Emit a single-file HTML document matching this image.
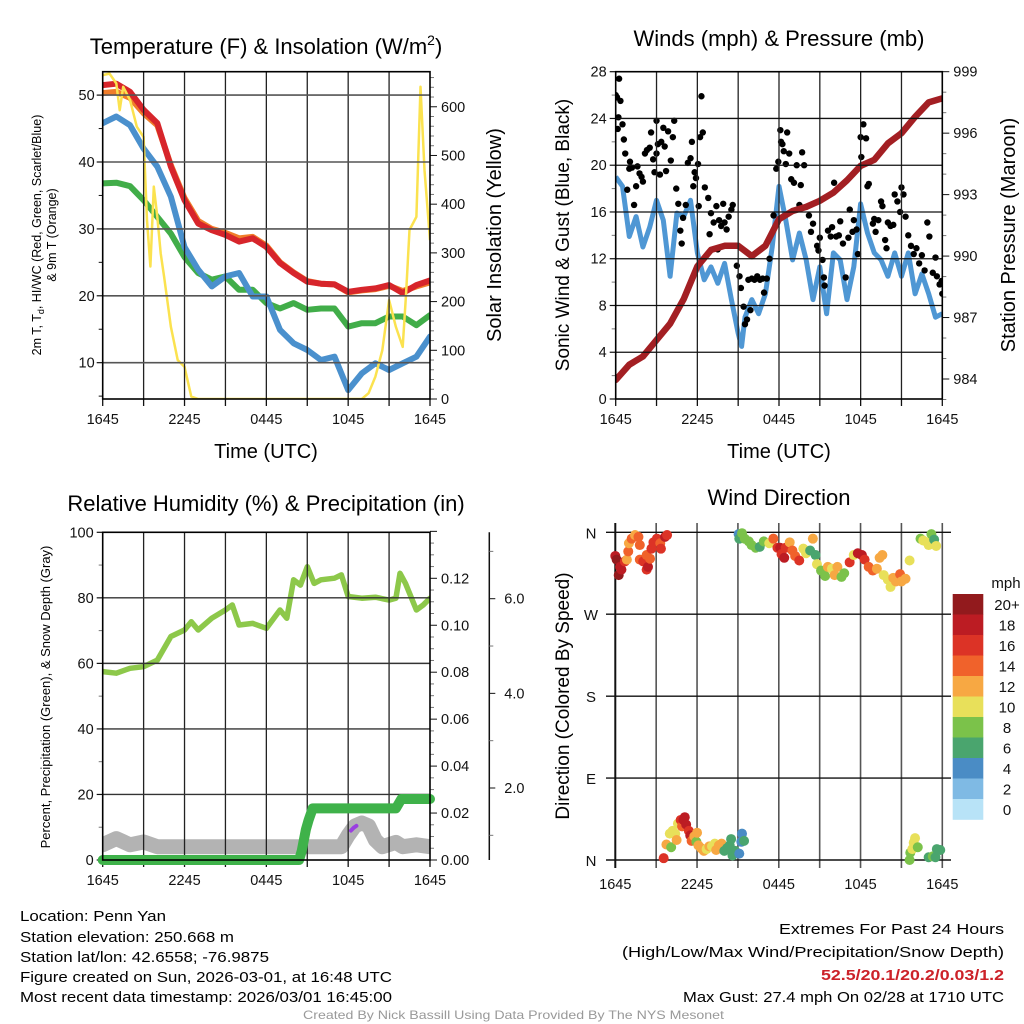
<!DOCTYPE html>
<html><head><meta charset="utf-8"><style>
html,body{margin:0;padding:0;background:#fff;}
svg{display:block;font-family:"Liberation Sans",Arial,sans-serif;}
</style></head><body>
<svg id="fig" width="1024" height="1024" viewBox="0 0 1024 1024" xmlns="http://www.w3.org/2000/svg">
<defs>
<clipPath id="c1"><rect x="102.7" y="71.7" width="327.3" height="327.3"/></clipPath>
<clipPath id="c2"><rect x="615.7" y="71.7" width="326.6" height="327.3"/></clipPath>
<clipPath id="c3"><rect x="102.7" y="532.3" width="327.3" height="327.7"/></clipPath>
</defs>
<text x="266" y="54" font-size="22" text-anchor="middle">Temperature (F) &amp; Insolation (W/m<tspan font-size="14" dy="-9">2</tspan><tspan dy="9">)</tspan></text>
<text x="779" y="46" font-size="22" text-anchor="middle">Winds (mph) &amp; Pressure (mb)</text>
<text x="266" y="511" font-size="22" text-anchor="middle">Relative Humidity (%) &amp; Precipitation (in)</text>
<text x="779" y="505" font-size="22" text-anchor="middle">Wind Direction</text>

<text font-size="12.5" text-anchor="middle" transform="translate(41,235) rotate(-90)">2m T, T<tspan font-size="9" dy="3">d</tspan><tspan dy="-3">, HI/WC (Red, Green, Scarlet/Blue)</tspan></text>
<text font-size="12.5" text-anchor="middle" transform="translate(56,235) rotate(-90)">&amp; 9m T (Orange)</text>
<text font-size="20" text-anchor="middle" transform="translate(501,235) rotate(-90)">Solar Insolation (Yellow)</text>
<text x="266" y="458" font-size="20" text-anchor="middle">Time (UTC)</text>
<text font-size="19" text-anchor="middle" transform="translate(569,235) rotate(-90)">Sonic Wind &amp; Gust (Blue, Black)</text>
<text font-size="20" text-anchor="middle" transform="translate(1015,235) rotate(-90)">Station Pressure (Maroon)</text>
<text x="779" y="458" font-size="20" text-anchor="middle">Time (UTC)</text>
<text font-size="13" text-anchor="middle" transform="translate(50,697) rotate(-90)">Percent, Precipitation (Green), &amp; Snow Depth (Gray)</text>
<text font-size="19" text-anchor="middle" transform="translate(569,696) rotate(-90)">Direction (Colored By Speed)</text>

<g id="layer"></g>

<g font-size="15">
<text x="20" y="921" textLength="146" lengthAdjust="spacingAndGlyphs">Location: Penn Yan</text>
<text x="20" y="942" textLength="214" lengthAdjust="spacingAndGlyphs">Station elevation: 250.668 m</text>
<text x="20" y="962" textLength="249" lengthAdjust="spacingAndGlyphs">Station lat/lon: 42.6558; -76.9875</text>
<text x="20" y="982" textLength="372" lengthAdjust="spacingAndGlyphs">Figure created on Sun, 2026-03-01, at 16:48 UTC</text>
<text x="20" y="1002" textLength="372" lengthAdjust="spacingAndGlyphs">Most recent data timestamp: 2026/03/01 16:45:00</text>
</g>
<g font-size="15">
<text x="779" y="934" textLength="225" lengthAdjust="spacingAndGlyphs">Extremes For Past 24 Hours</text>
<text x="622" y="957" textLength="382" lengthAdjust="spacingAndGlyphs">(High/Low/Max Wind/Precipitation/Snow Depth)</text>
<text x="821" y="980" textLength="183" lengthAdjust="spacingAndGlyphs" fill="#cc2229" font-weight="bold">52.5/20.1/20.2/0.03/1.2</text>
<text x="683" y="1002" textLength="321" lengthAdjust="spacingAndGlyphs">Max Gust: 27.4 mph On 02/28 at 1710 UTC</text>
</g>
<text x="303" y="1019" font-size="12" fill="#999" textLength="421" lengthAdjust="spacingAndGlyphs">Created By Nick Bassill Using Data Provided By The NYS Mesonet</text>
</svg>
<script>
// ===== Panel 1 data =====
const hours = [0,1,2,3,4,5,6,7,8,9,10,11,12,13,14,15,16,17,18,19,20,21,22,23,24];
const airTemp = [51.5,51.7,50.5,47.8,45.8,39.3,34.3,30.8,29.8,29.1,28.1,28.6,27.3,24.9,23.4,22.1,21.8,21.7,20.6,20.9,21.1,21.6,20.4,21.6,22.3];
const temp9m = [50.3,50.5,49.6,47.3,45.5,39.5,34.6,31.2,30.0,29.4,28.6,28.8,27.5,25.0,23.5,22.2,21.8,21.7,20.5,20.8,21.0,21.5,20.7,21.4,22.0];
const dewPoint = [36.8,36.9,36.4,34.3,31.8,29.3,25.8,23.4,22.4,22.9,20.9,20.9,18.9,18.1,18.9,17.9,18.1,18.1,15.4,15.9,15.9,16.9,16.9,15.6,17.1];
const windChill = [45.8,46.8,45.5,42.0,39.3,34.8,27.3,23.9,21.4,22.9,23.4,19.9,19.9,14.9,12.9,11.9,10.4,10.9,5.9,8.4,9.9,8.9,9.9,10.9,13.9];
const solarHours = [0,0.5,1,1.25,1.5,2,2.5,3,3.25,3.5,3.75,4,4.25,4.5,5,5.5,6,6.5,7,19,19.5,20,20.5,21,21.5,22,22.25,22.5,23,23.3,23.6,24];
const solar = [665,668,648,593,641,614,559,538,367,272,436,374,299,251,148,80,66,5,0,0,12,46,100,203,148,107,217,347,374,641,470,326];
const tempTicks = [10,20,30,40,50];
const solarTicks = [0,100,200,300,400,500,600];
const timeLabels = ["1645","2245","0445","1045","1645"];

// ===== Panel 2 data =====
const windHours = [0,0.5,1,1.5,2,2.5,3,3.5,4,4.5,5,5.5,6,6.5,7,7.5,8,8.5,9,9.25,9.5,10,10.5,11,11.5,12,12.5,13,13.5,14,14.5,15,15.5,16,16.5,17,17.5,18,18.5,19,19.5,20,20.5,21,21.5,22,22.5,23,23.5,24];
const windSpeed = [19.0,18.2,13.9,15.6,13.0,14.7,17.0,15.3,10.5,15.9,15.6,17.0,12.5,10.2,11.3,9.9,11.6,8.5,5.6,4.5,7.0,8.5,7.3,9.0,13.0,18.2,15.3,11.9,14.2,11.9,8.5,11.3,7.3,12.5,11.9,8.5,11.3,16.7,14.2,12.5,11.9,10.5,12.5,10.5,12.5,9.0,10.7,9.0,7.0,7.3];
const gustHours = [0,0.1,0.25,0.2,0.15,0.35,0.5,0.6,0.7,0.85,1.0,1.05,1.2,1.35,1.5,1.6,1.75,1.9,2.0,2.15,2.3,2.5,2.6,2.75,2.85,3.0,3.0,3.1,3.25,3.35,3.5,3.6,3.7,3.85,4.05,4.2,4.3,4.45,4.6,4.75,4.85,4.95,5.15,5.3,5.5,5.6,5.7,5.8,5.9,6.05,6.1,6.2,6.3,6.4,6.55,6.8,6.9,7.0,7.2,7.4,7.5,7.6,7.75,7.9,8.0,8.15,8.3,8.5,8.6,8.9,9.1,9.2,9.4,9.5,9.65,9.75,9.9,10.0,10.2,10.4,10.6,10.8,10.9,11.1,11.3,11.6,11.8,11.95,12.1,12.15,12.25,12.35,12.5,12.6,12.75,12.9,13.1,13.3,13.5,13.6,13.7,13.85,14.2,14.35,14.5,14.8,14.9,15.0,15.2,15.3,15.35,15.6,15.8,15.9,16.05,16.2,16.4,16.5,16.7,16.9,17.1,17.2,17.4,17.5,17.7,17.8,18.0,18.05,18.2,18.4,18.5,18.6,18.9,19.0,19.1,19.3,19.5,19.6,19.8,19.9,20.0,20.2,20.4,20.5,20.7,20.9,21.0,21.15,21.3,21.5,21.7,21.9,22.1,22.3,22.5,22.7,22.9,23.05,23.3,23.5,23.6,23.8,23.95,24.0];
const gustSpeed = [26,25.8,27.4,24.1,23.1,25.5,23.5,22.2,21,17.9,19.7,20.3,19.8,16.6,18.2,19.9,19.3,19,18.6,21,21.3,21.5,22.8,20.5,19.4,21,23.8,21.8,19.2,22,23.2,21.6,19.5,22.9,20.4,22.4,23.8,18,16.7,14.4,13.3,15.5,16.6,20.2,20.6,22,18.2,19.4,18.9,20.1,16.5,22.4,25.9,22.8,18.1,17.2,14.1,15.9,15.1,16.5,12.8,15.3,14.8,16.7,15.1,14.5,15.6,16.2,16.6,11.4,10.5,9.5,7.9,6.4,6.8,10.2,7.6,10.3,10.2,10.5,10.2,10.3,9.1,10.3,12,15.7,19.7,20.3,23,22,21.8,21.2,20.1,22.8,21,18.8,18.5,20,16.6,18.3,21.1,20,15.7,14.3,15,13.1,12.7,13.8,11.9,10.4,9.7,14.4,13.9,14.7,18.5,13.9,14,15.2,13.3,10.4,13.8,16.2,14.3,15.3,14.5,12.4,22.4,20.7,23.5,22.3,18.2,18.4,15,15.4,14.3,15.3,16.9,16.5,13.6,12.9,15.1,14.8,14.9,17.5,16.9,16,18.1,17.5,15.6,14,13.1,12.4,12.9,11.6,12.3,11,15.1,13.9,10.8,12.1,10.5,9.8,10.1,9];
const pressure = [983.95,984.7,985.1,985.9,986.7,987.9,989.5,990.3,990.5,990.5,990.0,990.5,991.8,992.2,992.4,992.7,993.1,993.7,994.4,994.7,995.5,996.0,996.8,997.5,997.7];
const windTicks = [0,4,8,12,16,20,24,28];
const pressTicks = [984,987,990,993,996,999];

// ===== Panel 3 data =====
const rhHours = [0,1,2,3,4,5,6,6.5,7,8,9,9.5,10,11,12,13,13.5,14,14.5,15,15.5,16,17,17.5,18,19,20,21,21.5,21.8,22.2,23,23.5,24];
const relHum = [57.5,57,58.5,59,61,68.2,70.2,72.7,70.2,73.8,76.3,77.8,71.7,72.2,70.7,76.3,73.8,85.5,83.9,89.5,84.4,85.5,86,87,80.4,79.9,80.2,79.3,79.9,87.5,84.4,76.3,77.8,79.9];
const precipHours = [0,14.4,14.6,14.9,15.1,15.4,21.5,21.9,24];
const precip = [0,0,0.004,0.013,0.017,0.022,0.022,0.026,0.026];
const snowHours = [0,1,2,3,4,14,17.5,18,18.5,19,19.5,20,20.5,21.5,22,23,24];
const snowDepth = [0.8,0.93,0.8,0.86,0.76,0.76,0.76,1.0,1.2,1.26,1.2,0.9,0.76,0.85,0.76,0.8,0.76];
const purpleHours = [18.2,18.4,18.6];
const purpleDepth = [1.1,1.16,1.2];
const rhTicks = [0,20,40,60,80,100];
const precipTicks = [0,0.02,0.04,0.06,0.08,0.10,0.12];
const snowTicks = [2,4,6];

// ===== Panel 4 data =====
const dirHours = [0.0,0.1,0.35,0.25,0.45,0.7,0.85,0.95,1.0,1.2,1.45,1.7,1.8,1.8,2.05,2.3,2.4,2.3,2.55,2.65,2.8,3.05,3.3,3.35,3.65,3.8,
9.05,9.1,9.3,9.5,9.8,10.0,10.3,10.6,10.9,11.3,11.6,11.9,12.1,12.2,12.4,12.5,12.8,13.0,13.2,13.5,13.8,14.0,14.3,14.5,14.7,14.8,15.1,15.4,15.6,15.9,16.1,16.3,16.6,16.8,17.2,17.5,17.8,18.1,18.3,18.6,18.9,19.2,19.4,19.6,19.7,20.0,20.2,20.4,20.6,20.9,21.0,21.3,21.6,
22.4,22.6,22.9,23.0,23.2,23.4,23.55,
3.55,3.75,4.1,4.0,4.2,4.4,4.5,4.6,4.8,4.9,5.0,5.1,5.2,5.4,5.5,5.6,5.8,5.95,6.0,6.1,6.3,6.5,6.7,6.9,7.1,7.3,7.4,7.6,7.8,8.0,8.2,8.4,8.5,8.6,8.8,9.1,9.25,9.3,9.45,
21.6,21.65,21.8,21.9,22.0,22.2,23.0,23.3,23.5,23.6,23.85];
const dirDeg = [334,330,322,313,319,328,330,339,348,353,357,355,346,330,328,319,322,335,331,342,349,353,348,342,355,357,
358,353,359,353,350,346,343,344,350,348,353,343,343,336,332,343,349,340,334,329,342,337,340,353,335,325,318,312,322,320,313,322,311,315,327,335,337,335,330,322,318,320,332,335,313,308,300,310,306,314,306,309,329,
353,351,349,346,358,352,345,
2,17,14,29,32,29,22,40,44,37,44,47,39,32,27,21,26,20,30,16,13,10,12,15,15,18,11,16,18,10,13,16,23,5,10,7,20,29,21,
0,8,12,19,24,14,3,4,3,12,11];
const dirSpeed = [18,20,18,20,18,16,12,14,12,14,12,14,14,14,16,16,18,14,14,16,16,16,14,16,18,16,
4,6,8,8,8,8,8,6,8,10,14,16,18,16,18,16,12,14,14,16,10,10,6,12,6,10,8,8,12,10,12,12,8,8,16,10,18,18,16,14,14,12,12,12,10,10,10,12,12,14,12,12,10,
8,10,10,10,8,6,10,
16,12,8,10,10,10,12,10,16,14,18,18,18,16,18,14,12,8,12,12,12,12,10,12,10,10,12,12,12,6,6,6,6,6,6,4,4,4,6,
8,8,10,10,10,8,6,8,6,6,6];
const dirLabels = ["N","W","S","E","N"];
const dirTicks = [360,270,180,90,0];
const speedColors = ["#b8e3f7","#7fbae4","#4a8cc5","#4aa56e","#7bc24a","#e8e05a","#f7a843","#f0622b","#dc3326","#bc1c23","#921a1d"];
const speedLabels = ["0","2","4","6","8","10","12","14","16","18","20+"];

// ===== helpers =====
const NS = "http://www.w3.org/2000/svg";
const layer = document.getElementById("layer");
function mk(tag, attrs, parent){
  const e = document.createElementNS(NS, tag);
  for (const k in attrs) e.setAttribute(k, attrs[k]);
  (parent||layer).appendChild(e);
  return e;
}
function lin(d0,d1,r0,r1){ return v => r0 + (v-d0)/(d1-d0)*(r1-r0); }
function pathFrom(xs, ys, sx, sy){
  let d = "";
  for (let i=0;i<xs.length;i++) d += (i?"L":"M") + sx(xs[i]).toFixed(1) + "," + sy(ys[i]).toFixed(1);
  return d;
}
function txt(x,y,s,size,anchor,name){
  const t = mk("text",{x:x,y:y,"font-size":size,"text-anchor":anchor||"middle",fill:"#111"});
  t.textContent = s;
  
  
  return t;
}
function timeAxis(sx, yb, top, grid, name){
  for (let h=0; h<=24; h+=3){
    const x = sx(h);
    if (grid && h>0 && h<24){
      const g = mk("line",{x1:x,x2:x,y1:top,y2:yb,stroke:"#222","stroke-width":1.3});
      
      
    }
    const t = mk("line",{x1:x,x2:x,y1:yb,y2:yb+7,stroke:"#111","stroke-width":1.3});
    
    
  }
  for (let i=0;i<timeLabels.length;i++){
    txt(sx(i*6), yb+25, timeLabels[i], 14.5, "middle", name+'-x-tick-label');
  }
}

// ===== Panel 1 =====
(function(){
  const L=102.7,R=430,T=71.7,B=399;
  const sx = lin(0,24,L,R), sy = lin(4.57,53.5,B,T), sr = lin(0,672,B,T);
  const g = mk("g",{"clip-path":"url(#c1)"});
  
  
  timeAxis(sx,B,T,true,"temp");
  for (const v of tempTicks){
    const gl = mk("line",{x1:L,x2:R,y1:sy(v),y2:sy(v),stroke:"#555","stroke-width":1.6});
    
    
    const tk = mk("line",{x1:L-6,x2:L,y1:sy(v),y2:sy(v),stroke:"#111","stroke-width":1.2});
    
    
    txt(L-8,sy(v)+5,String(v),14.5,"end","temp-y-tick-label");
  }
  for (let v=5; v<=50; v+=10){
    const tk = mk("line",{x1:L-4,x2:L,y1:sy(v),y2:sy(v),stroke:"#111","stroke-width":1});
    
    
  }
  for (let v=0; v<=660; v+=20){
    const major = v%100===0;
    const tk = mk("line",{x1:R,x2:R+(major?7:4),y1:sr(v),y2:sr(v),stroke:major?"#111":"#777","stroke-width":1});
    
    
  }
  for (const v of solarTicks) txt(R+11,sr(v)+5,String(v),14.5,"start","solar-y-tick-label");
  const series = [[temp9m,"#f07d2a","nine-meter-temp-line"],[airTemp,"#d7252b","air-temp-line"],[dewPoint,"#41ad49","dew-point-line"],[windChill,"#4a90cd","wind-chill-line"]];
  for (const s of series){
    const p = mk("path",{d:pathFrom(hours,s[0],sx,sy),fill:"none",stroke:s[1],"stroke-width":6,"stroke-linejoin":"round","stroke-linecap":"round"},g);
    
    
  }
  const ys = mk("path",{d:pathFrom(solarHours,solar,sx,sr),fill:"none",stroke:"#fbe24f","stroke-width":2.5,"stroke-linejoin":"round"},g);
  
  
  const fr = mk("rect",{x:L,y:T,width:R-L,height:B-T,fill:"none",stroke:"#000","stroke-width":1.6});
  
  
})();

// ===== Panel 2 =====
(function(){
  const L=615.7,R=942.3,T=71.7,B=399;
  const sx = lin(0,24,L,R), sy = lin(0,28,B,T), sp = lin(984,999,379,T);
  const g = mk("g",{"clip-path":"url(#c2)"});
  
  
  timeAxis(sx,B,T,true,"wind");
  for (const v of windTicks){
    if (v>0 && v<28){
      const gl = mk("line",{x1:L,x2:R,y1:sy(v),y2:sy(v),stroke:"#111","stroke-width":1.3});
      
      
    }
    const tk = mk("line",{x1:L-6,x2:L,y1:sy(v),y2:sy(v),stroke:"#111","stroke-width":1.2});
    
    
    txt(L-9,sy(v)+5,String(v),14.5,"end","wind-y-tick-label");
  }
  for (let v=2; v<28; v+=4){
    const tk = mk("line",{x1:L-4,x2:L,y1:sy(v),y2:sy(v),stroke:"#777","stroke-width":1});
    
    
  }
  for (let v=983; v<=999; v+=1){
    const major = (v-984)%3===0;
    const tk = mk("line",{x1:R,x2:R+(major?7:4),y1:sp(v),y2:sp(v),stroke:major?"#111":"#777","stroke-width":1});
    
    
  }
  for (const v of pressTicks) txt(R+11,sp(v)+5,String(v),14.5,"start","pressure-y-tick-label");
  const wl = mk("path",{d:pathFrom(windHours,windSpeed,sx,sy),fill:"none",stroke:"#4f97d4","stroke-width":5,"stroke-linejoin":"round"},g);
  
  
  for (let i=0;i<gustHours.length;i++){
    const c = mk("circle",{cx:sx(gustHours[i]),cy:sy(gustSpeed[i]),r:3.2,fill:"#000"},g);
    
    
  }
  const pl = mk("path",{d:pathFrom(hours,pressure,sx,sp),fill:"none",stroke:"#a31f23","stroke-width":6.5,"stroke-linejoin":"round","stroke-linecap":"round"},g);
  
  
  const fr = mk("rect",{x:L,y:T,width:R-L,height:B-T,fill:"none",stroke:"#000","stroke-width":1.6});
  
  
})();

// ===== Panel 3 =====
(function(){
  const L=102.7,R=430,T=532.3,B=860;
  const sx = lin(0,24,L,R), sy = lin(0,100,B,T), spr = lin(0,0.12,B,578.3), ssn = lin(2,6,788,598.7);
  const g = mk("g",{"clip-path":"url(#c3)"});
  
  
  timeAxis(sx,B,T,true,"rh");
  for (const v of rhTicks){
    if (v>0 && v<100){
      const gl = mk("line",{x1:L,x2:R,y1:sy(v),y2:sy(v),stroke:"#333","stroke-width":1.4});
      
      
    }
    const tk = mk("line",{x1:L-6,x2:L,y1:sy(v),y2:sy(v),stroke:"#111","stroke-width":1.2});
    
    
    txt(L-9,sy(v)+5,String(v),14.5,"end","rh-y-tick-label");
  }
  for (let v=10; v<100; v+=20){
    const tk = mk("line",{x1:L-4,x2:L,y1:sy(v),y2:sy(v),stroke:"#777","stroke-width":1});
    
    
  }
  for (let v=0; v<=0.1401; v+=0.005){
    const major = Math.abs(v/0.02-Math.round(v/0.02))<1e-6;
    const tk = mk("line",{x1:R,x2:R+(major?7:4),y1:spr(v),y2:spr(v),stroke:major?"#111":"#777","stroke-width":1});
    
    
  }
  for (const v of precipTicks) txt(R+11,spr(v)+5,v.toFixed(2),14.5,"start","precip-y-tick-label");
  const ax = 489.3;
  const sa = mk("line",{x1:ax,x2:ax,y1:T,y2:B,stroke:"#111","stroke-width":1.5});
  
  
  for (let v=1; v<=7; v+=1){
    const major = v%2===0;
    const tk = mk("line",{x1:ax,x2:ax+(major?6:4),y1:ssn(v),y2:ssn(v),stroke:major?"#111":"#777","stroke-width":1});
    
    
  }
  for (const v of snowTicks) txt(ax+15,ssn(v)+5,v.toFixed(1),14.5,"start","snow-depth-tick-label");
  const sn = mk("path",{d:pathFrom(snowHours,snowDepth,sx,ssn),fill:"none",stroke:"#b3b3b3","stroke-width":15,"stroke-linejoin":"round","stroke-linecap":"round"},g);
  
  
  const pu = mk("path",{d:pathFrom(purpleHours,purpleDepth,sx,ssn),fill:"none",stroke:"#9a3ee0","stroke-width":4,"stroke-linecap":"round"},g);
  
  
  const pr = mk("path",{d:pathFrom(precipHours,precip,sx,spr),fill:"none",stroke:"#3fb24a","stroke-width":10,"stroke-linejoin":"round","stroke-linecap":"round"});
  
  
  const rh = mk("path",{d:pathFrom(rhHours,relHum,sx,sy),fill:"none",stroke:"#8dc84a","stroke-width":5.5,"stroke-linejoin":"round","stroke-linecap":"round"},g);
  
  
  const fr = mk("rect",{x:L,y:T,width:R-L,height:B-T,fill:"none",stroke:"#000","stroke-width":1.6});
  
  
})();

// ===== Panel 4 =====
(function(){
  const L=615.3,R=942.3,T=532.3,B=860;
  const sx = lin(0,24,L,R), sy = lin(0,360,B,T);
  for (let h=0; h<=24; h+=3){
    const x = sx(h);
    const v = mk("line",{x1:x,x2:x,y1:523,y2:868,stroke:h===0?"#111":"#555","stroke-width":h===0?2:1.6});
    
    
  }
  for (let i=0;i<dirTicks.length;i++){
    const y = sy(dirTicks[i]);
    const l = mk("line",{x1:606,x2:951,y1:y,y2:y,stroke:"#111","stroke-width":1.4});
    
    
    txt(591,y+6,dirLabels[i],15,"middle","direction-tick-label");
  }
  for (let i=0;i<timeLabels.length;i++) txt(sx(i*6),889,timeLabels[i],14.5,"middle","direction-x-tick-label");
  for (let i=0;i<dirHours.length;i++){
    const idx = Math.min(10, Math.floor(dirSpeed[i]/2));
    const c = mk("circle",{cx:sx(dirHours[i]),cy:sy(dirDeg[i]),r:5,fill:speedColors[idx]});
    
    
  }
  const cbTop = 594, cbH = 20.5;
  for (let i=0;i<speedColors.length;i++){
    const k = speedColors.length-1-i;
    const r = mk("rect",{x:952.7,y:cbTop+i*cbH,width:30.6,height:cbH+0.3,fill:speedColors[k]});
    
    
    txt(1007,cbTop+i*cbH+16,speedLabels[k],15,"middle","colorbar-label");
  }
  txt(1006,588,"mph",15,"middle","colorbar-title");
})();
</script>
</body></html>
